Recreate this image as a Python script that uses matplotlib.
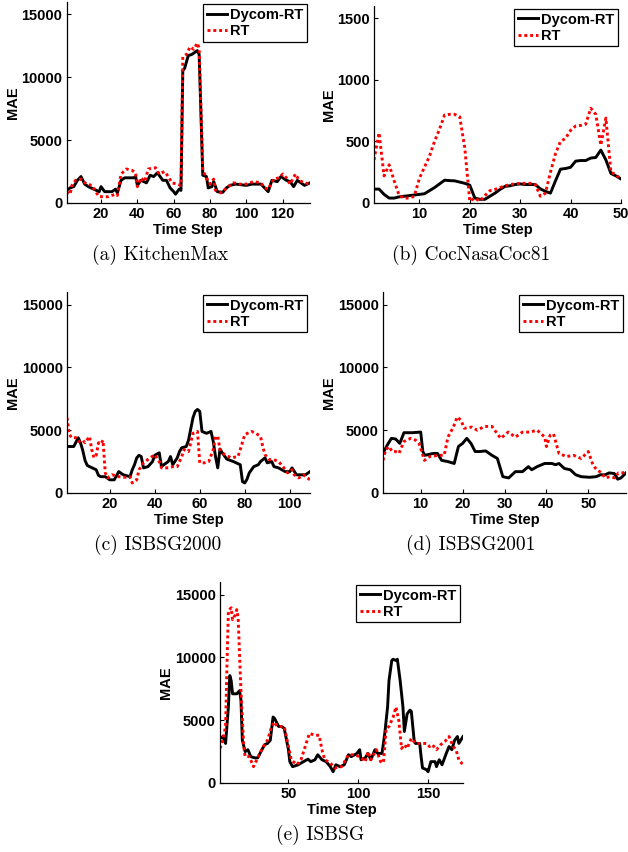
import matplotlib
matplotlib.use('Agg')
import matplotlib.pyplot as plt

plt.rcParams['font.family'] = ['Liberation Sans', 'DejaVu Sans']
plt.rcParams['font.weight'] = 'bold'
plt.rcParams['axes.labelweight'] = 'bold'

# (a) KitchenMax
a_dycom_x = [1, 3, 5, 7, 9, 11, 13, 16, 19, 20, 22, 26, 28, 29, 31, 33, 38, 39, 40, 42,
             45, 47, 49, 51, 54, 56, 58, 60, 61, 63, 64, 65, 66, 68, 70, 73, 74, 76, 78, 79,
             81, 82, 84, 87, 89, 91, 94, 100, 103, 108, 110, 112, 114, 117, 119, 122, 124, 126, 128, 130,
             132, 135]
a_dycom_y = [1000, 1200, 1300, 1800, 2100, 1500, 1300, 1100, 900, 1300, 900, 900, 1100, 800, 1800, 2000, 2000, 2100, 1400, 1800,
             1600, 2200, 2100, 2400, 1800, 1800, 1200, 900, 700, 1100, 1000, 10500, 10700, 11700, 11800, 12100, 11800, 2200, 2100, 1200,
             1300, 1700, 900, 850, 1200, 1400, 1500, 1400, 1500, 1500, 1200, 900, 1800, 1700, 2100, 1800, 1700, 1300, 1800, 1600,
             1400, 1600]
a_rt_x = [1, 3, 4, 6, 9, 12, 15, 17, 19, 24, 28, 29, 31, 34, 37, 39, 40, 42, 44, 46,
          50, 52, 55, 57, 59, 62, 64, 65, 67, 69, 71, 73, 74, 76, 78, 80, 82, 83, 86, 90,
          93, 96, 100, 104, 108, 110, 112, 115, 118, 120, 122, 124, 127, 129, 132, 135]
a_rt_y = [900, 700, 1400, 1800, 1900, 1500, 1400, 900, 500, 500, 700, 600, 2300, 2700, 2600, 2400, 1300, 2000, 1700, 2700,
          2800, 2300, 2500, 2100, 1600, 1500, 1400, 11600, 11800, 12400, 12200, 12700, 12300, 2600, 2000, 1500, 1900, 1000, 800, 1300,
          1600, 1500, 1500, 1700, 1600, 1200, 1100, 1900, 2000, 2300, 2000, 1500, 2300, 1800, 1600, 1500]

# (b) CocNasaCoc81, one value per step 1..50
b_dycom = [113, 113, 70, 40, 40, 50, 55, 60, 65, 70,
           75, 100, 125, 155, 185, 182, 180, 170, 160, 145,
           40, 30, 30, 55, 80, 110, 135, 140, 150, 155,
           150, 150, 150, 115, 95, 80, 180, 275, 280, 290,
           340, 345, 345, 365, 370, 430, 350, 240, 220, 195]
b_rt = [350, 570, 220, 310, 180, 60, 40, 40, 55, 200,
        290, 380, 500, 600, 715, 720, 720, 700, 450, 15,
        40, 15, 60, 100, 110, 125, 140, 150, 155, 160,
        160, 160, 150, 55, 80, 250, 400, 500, 525, 590,
        625, 630, 640, 770, 720, 470, 690, 250, 230, 190]

# (c) ISBSG2000
c_dycom_x = [1, 4, 6, 7, 8, 9, 10, 11, 14, 15, 16, 18, 20, 22, 24, 26, 29, 30, 31, 32,
             33, 34, 35, 37, 39, 40, 42, 43, 44, 46, 47, 48, 50, 51, 52, 54, 55, 56, 57, 58,
             59, 60, 61, 63, 65, 66, 67, 68, 69, 70, 72, 75, 78, 79, 80, 81, 82, 84, 86, 87,
             89, 90, 92, 93, 95, 98, 100, 101, 103, 105, 107, 109]
c_dycom_y = [3700, 3700, 4400, 4000, 3400, 2600, 2200, 2100, 1850, 1400, 1300, 1300, 1050, 1050, 1700, 1450, 1300, 1850, 2250, 2800,
             3000, 2900, 2000, 2100, 2500, 3000, 3200, 2100, 2250, 2500, 2900, 2250, 2800, 3300, 3600, 3700, 4200, 5100, 6000, 6500,
             6650, 6500, 4900, 4750, 4900, 4100, 2900, 2000, 3500, 3200, 2700, 2500, 2250, 900, 800, 1100, 1600, 2100, 2250, 2500,
             2800, 2400, 2500, 2100, 2000, 1700, 1700, 2000, 1450, 1450, 1450, 1700]
c_rt_x = [1, 2, 3, 5, 6, 8, 9, 11, 12, 13, 14, 15, 16, 17, 18, 19, 21, 24, 27, 29,
          30, 32, 33, 35, 38, 40, 42, 43, 46, 48, 50, 52, 53, 55, 57, 59, 60, 62, 64, 66,
          67, 68, 69, 71, 74, 77, 78, 80, 83, 85, 87, 88, 89, 91, 93, 95, 97, 99, 101, 102,
          104, 106, 109]
c_rt_y = [6000, 4700, 4400, 4400, 4100, 4200, 4000, 4500, 3450, 2800, 3000, 4000, 3900, 4200, 1600, 1200, 1450, 1300, 1250, 1300,
          800, 1050, 1850, 2400, 2800, 3050, 2500, 2000, 2000, 2100, 2100, 2900, 3450, 3300, 4750, 4900, 2400, 2400, 2500, 3450,
          4500, 4500, 3450, 3050, 2800, 2900, 3450, 4650, 4900, 4750, 4500, 3700, 3050, 2650, 2650, 2500, 2100, 1600, 1850, 1450,
          1200, 1450, 1050]

# (d) ISBSG2001
d_dycom_x = [1, 2, 3, 4, 5, 6, 8, 10, 10.5, 11, 13, 14, 15, 16.5, 18, 19, 20, 21, 22, 23,
             24, 25.5, 27, 28.3, 29.6, 31, 32.6, 34.3, 35.7, 36.5, 37.8, 39.6, 41.3, 42.2, 43, 44.3, 45.7, 47, 48.3, 50.3,
             51.9, 52.9, 54, 55, 56.2, 57, 57.8, 59]
d_dycom_y = [3150, 3800, 4350, 4300, 3950, 4800, 4800, 4850, 3300, 3000, 3150, 3150, 2600, 2500, 2350, 3700, 3950, 4350, 3950, 3300,
             3300, 3350, 3000, 2750, 1300, 1200, 1700, 1700, 2100, 1850, 2100, 2350, 2350, 2250, 2350, 1950, 1850, 1450, 1300, 1250,
             1300, 1450, 1450, 1600, 1550, 1100, 1200, 1600]
d_rt_x = [1, 1.6, 2.4, 3.2, 4, 4.8, 6, 7.6, 8.8, 9.6, 10.9, 12.2, 14.3, 15.6, 16.5, 17.8, 18.7, 19.6, 20.4, 22.2,
          23.5, 25.2, 27, 29.1, 30.9, 32.6, 34.3, 36.1, 37.8, 39.6, 40, 40.9, 41.7, 43, 44.8, 46.5, 48.3, 50, 51.1, 52,
          53.2, 54, 55.2, 56.3, 57.2, 58, 59]
d_rt_y = [2600, 3400, 3700, 3300, 3300, 3150, 4100, 4350, 4200, 3950, 2600, 2900, 3000, 3000, 4450, 5250, 6050, 5800, 5150, 5250,
          5000, 5300, 5300, 4350, 4850, 4450, 4850, 4850, 5000, 4450, 3700, 4600, 4700, 3150, 2900, 3000, 2750, 3300, 2250, 1850,
          1600, 1200, 1300, 1200, 1600, 1600, 1650]

# (e) ISBSG
e_dycom_x = [1, 3, 5, 7, 8, 9, 10, 13, 15, 16, 17, 19, 21, 23, 26, 28, 31, 33, 35, 37,
             39, 40, 43, 45, 47, 50, 51, 53, 57, 60, 64, 66, 69, 71, 74, 77, 80, 82, 84, 87,
             90, 93, 95, 99, 101, 102, 105, 107, 109, 112, 114, 117, 119, 121, 122, 124, 125, 127, 128, 130,
             132, 133, 135, 137, 138, 140, 141, 144, 145, 146, 149, 150, 152, 155, 156, 158, 160, 163, 165, 167,
             169, 171, 172, 175]
e_dycom_y = [3550, 3700, 3150, 6050, 8550, 8150, 7100, 7100, 7350, 6600, 3400, 2500, 2650, 2100, 2000, 2000, 2650, 3050, 3150, 3400,
             5250, 5150, 4500, 4500, 4350, 2650, 1700, 1300, 1450, 1650, 1900, 1700, 1850, 2250, 1850, 1700, 1300, 900, 1450, 1300,
             1450, 2250, 2100, 2350, 2650, 1850, 2000, 2350, 1850, 2650, 2350, 2350, 3950, 6050, 8150, 9750, 9850, 9750, 9850, 8150,
             6050, 4100, 5500, 5800, 5700, 3400, 3150, 3150, 2100, 1200, 1050, 900, 1700, 1700, 1300, 1850, 1450, 2350, 2900, 2650,
             3400, 3700, 3150, 3700]
e_rt_x = [1, 3, 5, 6, 7, 9, 10, 12, 13, 14, 15, 16, 18, 19, 22, 25, 28, 32, 35, 38,
          40, 42, 45, 47, 50, 52, 56, 59, 62, 65, 69, 72, 74, 76, 80, 83, 88, 91, 93, 97,
          101, 105, 107, 109, 113, 116, 118, 120, 122, 125, 127, 129, 131, 133, 135, 138, 141, 145, 149, 151,
          153, 156, 159, 162, 165, 168, 170, 172, 175]
e_rt_y = [2750, 3400, 4500, 9450, 13700, 13950, 13000, 13400, 13800, 13150, 10250, 7350, 2900, 2100, 2100, 1300, 2000, 2900, 3400, 4500,
          4850, 4500, 4500, 4500, 2900, 1850, 1450, 1850, 2900, 3950, 3800, 3800, 2650, 1850, 1600, 1200, 1300, 1850, 2250, 2250,
          2100, 1700, 2500, 1850, 2650, 1700, 1600, 4350, 4500, 5250, 6050, 5000, 2750, 3050, 2750, 3550, 3150, 3150, 3150, 2900,
          3050, 2650, 3050, 3300, 3700, 2900, 2650, 1850, 1450]

W, H = 628, 852


def rect(l, r, t, b):
    return [l / W, 1 - b / H, (r - l) / W, (b - t) / H]


def panel(pos, dx, dy, rx, ry, xmax, xticks, ymax, yticks, caption, cap_xy):
    ax = fig.add_axes(rect(*pos))
    ax.plot(dx, dy, color='black', lw=2.1, label='Dycom-RT')
    ax.plot(rx, ry, color='red', lw=2.1, linestyle=(0, (1, 1)), label='RT')
    ax.set_xlim(1, xmax)
    ax.set_ylim(0, ymax)
    ax.set_xticks(xticks)
    ax.set_yticks(yticks)
    ax.spines['top'].set_visible(False)
    ax.spines['right'].set_visible(False)
    for s in ['left', 'bottom']:
        ax.spines[s].set_linewidth(0.9)
    ax.tick_params(direction='in', length=3, width=0.8, labelsize=10.5, pad=3)
    ax.set_xlabel('Time Step', fontsize=10.5, labelpad=1)
    ax.set_ylabel('MAE', fontsize=10.5, labelpad=1)
    leg = ax.legend(loc='upper right', bbox_to_anchor=(1, 1), borderaxespad=0.2,
                    fancybox=False, framealpha=1, edgecolor='black',
                    handlelength=1.4, handletextpad=0.2, labelspacing=0.15,
                    borderpad=0.25, prop={'size': 10.5, 'weight': 'bold'})
    leg.get_frame().set_linewidth(0.9)
    fig.text(cap_xy[0] / W, 1 - cap_xy[1] / H, caption, family='cmr10',
             fontweight='normal', fontsize=14, ha='center', va='center')
    return ax


fig = plt.figure(figsize=(6.28, 8.52), dpi=100)

big_ticks = [0, 5000, 10000, 15000]
panel((66.5, 310, 1.5, 203), a_dycom_x, a_dycom_y, a_rt_x, a_rt_y, 135, [20, 40, 60, 80, 100, 120],
      16000, big_ticks, '(a) KitchenMax', (160, 255))
steps_b = list(range(1, len(b_dycom) + 1))
panel((374, 621, 6, 203), steps_b, b_dycom, steps_b, b_rt, 50, [10, 20, 30, 40, 50],
      1600, [0, 500, 1000, 1500], '(b) CocNasaCoc81', (471, 255))
panel((67, 310, 292, 493), c_dycom_x, c_dycom_y, c_rt_x, c_rt_y, 109, [20, 40, 60, 80, 100],
      16000, big_ticks, '(c) ISBSG2000', (158, 545))
panel((383, 626, 292, 493), d_dycom_x, d_dycom_y, d_rt_x, d_rt_y, 59, [10, 20, 30, 40, 50],
      16000, big_ticks, '(d) ISBSG2001', (471, 545))
panel((220, 463, 582, 783), e_dycom_x, e_dycom_y, e_rt_x, e_rt_y, 175, [50, 100, 150],
      16000, big_ticks, '(e) ISBSG', (320, 835))

fig.savefig('out.png', dpi=100)
